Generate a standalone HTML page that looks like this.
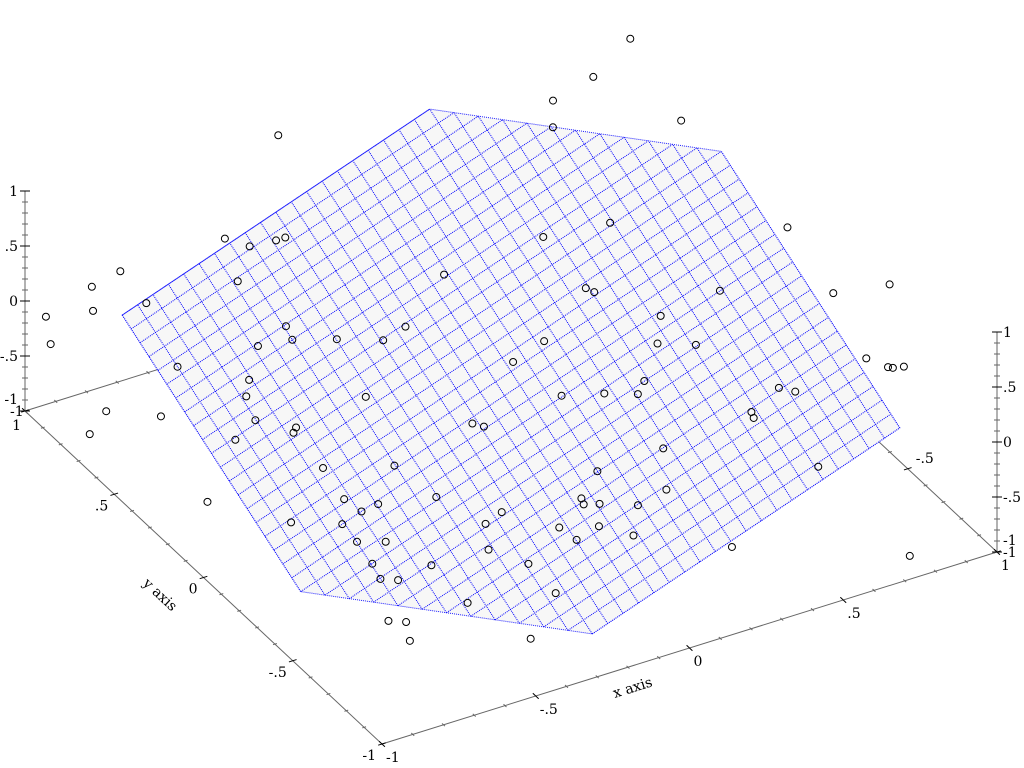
<!DOCTYPE html>
<html><head><meta charset="utf-8">
<style>
html,body{margin:0;padding:0;background:#fff;}
svg{display:block;}
text{font-family:"DejaVu Serif","Liberation Serif",serif;font-size:14px;fill:#000;}
</style></head>
<body>
<svg id="chart" width="1024" height="768" viewBox="0 0 1024 768" xmlns="http://www.w3.org/2000/svg">
<g id="back"></g>
<g id="surf"></g>
<g id="pts"></g>
<g id="front"></g>
</svg>
<script>
// ---- data ----
const ptX = [0.05,-0.35,-0.31,-0.23,-0.20,-0.69,-0.80,-0.43,0.09,-0.71,-0.99,-0.86,-1.05,-0.43,-0.14,-0.45,-0.34,-0.23,-0.55,-0.80,-0.66,0.03,1.16,0.97,0.81,1.07,0.74,0.63,0.43,1.05,0.40,0.41,0.72,0.99,1.15,0.51,0.16,0.43,0.52,0.90,0.93,0.94,0.97,0.30,0.61,-0.71,-0.42,-1.09,-0.97,-0.75,-0.67,-0.69,-1.19,-0.23,-0.21,-0.85,-0.71,-0.53,-0.74,-0.51,-1.08,-0.67,-0.73,-0.39,-0.93,-0.81,-0.46,-0.82,-0.75,-0.52,-0.84,-0.70,-0.86,-0.82,-0.71,-0.95,-0.91,-0.95,0.06,0.17,0.25,0.64,0.48,0.47,0.17,-0.05,0.50,0.07,-0.16,-0.17,-0.13,-0.04,-0.29,-0.19,-0.13,-0.28,0.08,-0.46,0.49,-0.47,-0.65];
const ptY = [1.39,1.00,0.93,0.92,0.92,1.00,0.97,0.79,0.53,0.82,0.90,0.86,0.77,0.52,0.35,0.45,0.39,0.32,0.47,0.49,0.33,0.04,1.33,1.21,1.16,0.89,1.04,0.53,0.56,0.26,0.27,0.24,0.07,-0.10,-0.14,0.04,0.09,-0.08,-0.14,-0.44,-0.51,-0.52,-0.53,-0.23,-0.45,0.26,0.09,0.39,0.29,0.14,0.05,0.03,0.31,-0.18,-0.21,0.08,-0.17,-0.26,-0.34,-0.46,-0.16,-0.41,-0.42,-0.62,-0.37,-0.45,-0.65,-0.55,-0.59,-0.77,-0.67,-0.76,-0.75,-0.78,-0.98,-0.95,-0.98,-1.07,-0.18,-0.23,-0.28,-0.49,-0.52,-0.55,-0.56,-0.57,-0.86,-0.75,-0.67,-0.70,-0.72,-0.78,-0.77,-0.82,-0.91,-0.85,-1.10,-0.89,-1.39,-1.06,-1.23];
const ptZ = ptX.map(()=>0);
const planeA = 1, planeB = 1, planeC = 0;     // z = a x + b y + c
const domainMin = -0.8, domainMax = 0.8, gridStep = 0.05;
const majorTicks = [-1,-0.5,0,0.5,1];
const majorLabels = ["-1","-.5","0",".5","1"];
const minorTicks = [-0.9,-0.8,-0.7,-0.6,-0.4,-0.3,-0.2,-0.1,0.1,0.2,0.3,0.4,0.6,0.7,0.8,0.9];

// ---- projection ----
function P(x,y,z){return [382+(x+1)*307.5-(y+1)*178.5, 744-(x+1)*96-(y+1)*166.5-(z+1)*110];}
const NS="http://www.w3.org/2000/svg";
function mk(tag,attrs,parent){const e=document.createElementNS(NS,tag);for(const k in attrs)e.setAttribute(k,attrs[k]);parent.appendChild(e);return e;}
const back=document.getElementById('back'), surf=document.getElementById('surf'), pts=document.getElementById('pts'), front=document.getElementById('front');

function axisLine(g,a,b,name){
  const l=mk('line',{x1:a[0],y1:a[1],x2:b[0],y2:b[1],stroke:'#666','stroke-width':1},g);
  
  
}
function tick(g,p,d,len,name){
  const l=mk('line',{x1:p[0]-d[0]*len,y1:p[1]-d[1]*len,x2:p[0]+d[0]*len,y2:p[1]+d[1]*len,stroke:len>3?'#000':'#666','stroke-width':1},g);
  
  
}
function label(g,p,txt,anchor,name){
  const t=mk('text',{x:p[0],y:p[1],'text-anchor':anchor},g);
  t.textContent=txt;
  
  
}
const dY=[-0.731,-0.682], dX=[0.954,-0.298], dZ=[1,0];

// back axes
axisLine(back,P(-1,1,-1),P(1,1,-1),'back-x-axis-line');
axisLine(back,P(1,-1,-1),P(1,1,-1),'back-y-axis-line');
majorTicks.forEach(v=>{tick(back,P(v,1,-1),dY,4,'back-x-major-tick');tick(back,P(1,v,-1),dX,4,'back-y-major-tick');});
minorTicks.forEach(v=>{tick(back,P(v,1,-1),dY,2,'back-x-minor-tick');tick(back,P(1,v,-1),dX,2,'back-y-minor-tick');});
{const p=P(1,-0.5,-1);label(back,[p[0]+8,p[1]-6],'-.5','start','back-y-tick-label');}
{const p=P(-1,1,-1);label(back,[p[0]-15,p[1]+5],'-1','start','back-x-tick-label');}
{const p=P(1,-1,-1);label(back,[p[0]+6,p[1]+5],'-1','start','back-y-tick-label');}

// ---- surface ----
function fz(x,y){return planeA*x+planeB*y+planeC;}
function clipPoly(){
  let poly=[[domainMin,domainMin],[domainMax,domainMin],[domainMax,domainMax],[domainMin,domainMax]];
  function clip(poly,inside,inter){const out=[];for(let i=0;i<poly.length;i++){const a=poly[i],b=poly[(i+1)%poly.length];const ia=inside(a),ib=inside(b);if(ia)out.push(a);if(ia!==ib)out.push(inter(a,b));}return out;}
  const lim=[[p=>fz(p[0],p[1])<=1,1],[p=>fz(p[0],p[1])>=-1,-1]];
  lim.forEach(([ins,zv])=>{poly=clip(poly,ins,(a,b)=>{const za=fz(a[0],a[1]),zb=fz(b[0],b[1]);const t=(zv-za)/(zb-za);return [a[0]+(b[0]-a[0])*t,a[1]+(b[1]-a[1])*t];});});
  return poly;
}
const hex=clipPoly();
const hexPts=hex.map(p=>P(p[0],p[1],fz(p[0],p[1])).join(',')).join(' ');
const fill=mk('polygon',{points:hexPts,fill:'#f7f7f7',stroke:'none'},surf);


function segLine(x0,y0,x1,y1,name){
  const z0=fz(x0,y0),z1=fz(x1,y1);let t0=0,t1=1;
  [[1,1],[-1,-1]].forEach(([zv,s])=>{const d=z1-z0;if(Math.abs(d)<1e-9)return;const t=(zv-z0)/d;
    if(s>0){ if(d>0)t1=Math.min(t1,t);else t0=Math.max(t0,t);} else { if(d<0)t1=Math.min(t1,t);else t0=Math.max(t0,t);} });
  if(t1<=t0)return;
  const a=[x0+(x1-x0)*t0,y0+(y1-y0)*t0],b=[x0+(x1-x0)*t1,y0+(y1-y0)*t1];
  const pa=P(a[0],a[1],fz(a[0],a[1])),pb=P(b[0],b[1],fz(b[0],b[1]));
  const l=mk('line',{x1:pa[0],y1:pa[1],x2:pb[0],y2:pb[1],stroke:'#0000ff','stroke-width':1,'stroke-dasharray':'1,1'},surf);
  
  
}
const nSteps=Math.round((domainMax-domainMin)/gridStep);
for(let i=0;i<=nSteps;i++){
  const v=domainMin+i*gridStep;
  segLine(v,domainMin,v,domainMax,'surface-grid-line-x');
  segLine(domainMin,v,domainMax,v,'surface-grid-line-y');
}
const outline=mk('polygon',{points:hexPts,fill:'none',stroke:'#2020ff','stroke-width':1,'stroke-dasharray':'1,1'},surf);



// ---- points ----
for(let i=0;i<ptX.length;i++){
  const p=P(ptX[i],ptY[i],ptZ[i]);
  const c=mk('circle',{cx:p[0],cy:p[1],r:3.5,fill:'none',stroke:'#000','stroke-width':1},pts);
  
  
}

// ---- front axes ----
axisLine(front,P(-1,-1,-1),P(1,-1,-1),'x-axis-line');
axisLine(front,P(-1,-1,-1),P(-1,1,-1),'y-axis-line');
axisLine(front,P(-1,1,-1),P(-1,1,1),'z-axis-left-line');
axisLine(front,P(1,-1,-1),P(1,-1,1),'z-axis-right-line');
majorTicks.forEach((v,i)=>{
  tick(front,P(v,-1,-1),dY,4,'x-major-tick');
  tick(front,P(-1,v,-1),dX,4,'y-major-tick');
  tick(front,P(-1,1,v),dZ,5,'z-left-major-tick');
  tick(front,P(1,-1,v),dZ,5,'z-right-major-tick');
  const nudge = v===-1 ? -12 : 0;
  let p=P(v,-1,-1); label(front,[p[0]+4,p[1]+18],majorLabels[i],'start','x-tick-label');
  if(v<1){p=P(-1,v,-1); label(front,[p[0]-6,p[1]+16],majorLabels[i],'end','y-tick-label');}
  p=P(-1,1,v); label(front,[p[0]-7,p[1]+5+nudge],majorLabels[i],'end','z-left-tick-label');
  p=P(1,-1,v); label(front,[p[0]+6,p[1]+5+nudge],majorLabels[i],'start','z-right-tick-label');
});
minorTicks.forEach(v=>{
  tick(front,P(v,-1,-1),dY,2,'x-minor-tick');
  tick(front,P(-1,v,-1),dX,2,'y-minor-tick');
  tick(front,P(-1,1,v),dZ,3,'z-left-minor-tick');
  tick(front,P(1,-1,v),dZ,3,'z-right-minor-tick');
});
{const p=P(-1,1,-1);label(front,[p[0]-4,p[1]+19],'1','end','y-tick-label');}
{const t=mk('text',{x:0,y:0,'text-anchor':'middle',transform:'translate(634,692) rotate(-17.5)'},front);t.textContent='x axis';
 
 }
{const t=mk('text',{x:0,y:0,'text-anchor':'middle',transform:'translate(157,598) rotate(43)'},front);t.textContent='y axis';
 
 }
</script>
</body></html>
